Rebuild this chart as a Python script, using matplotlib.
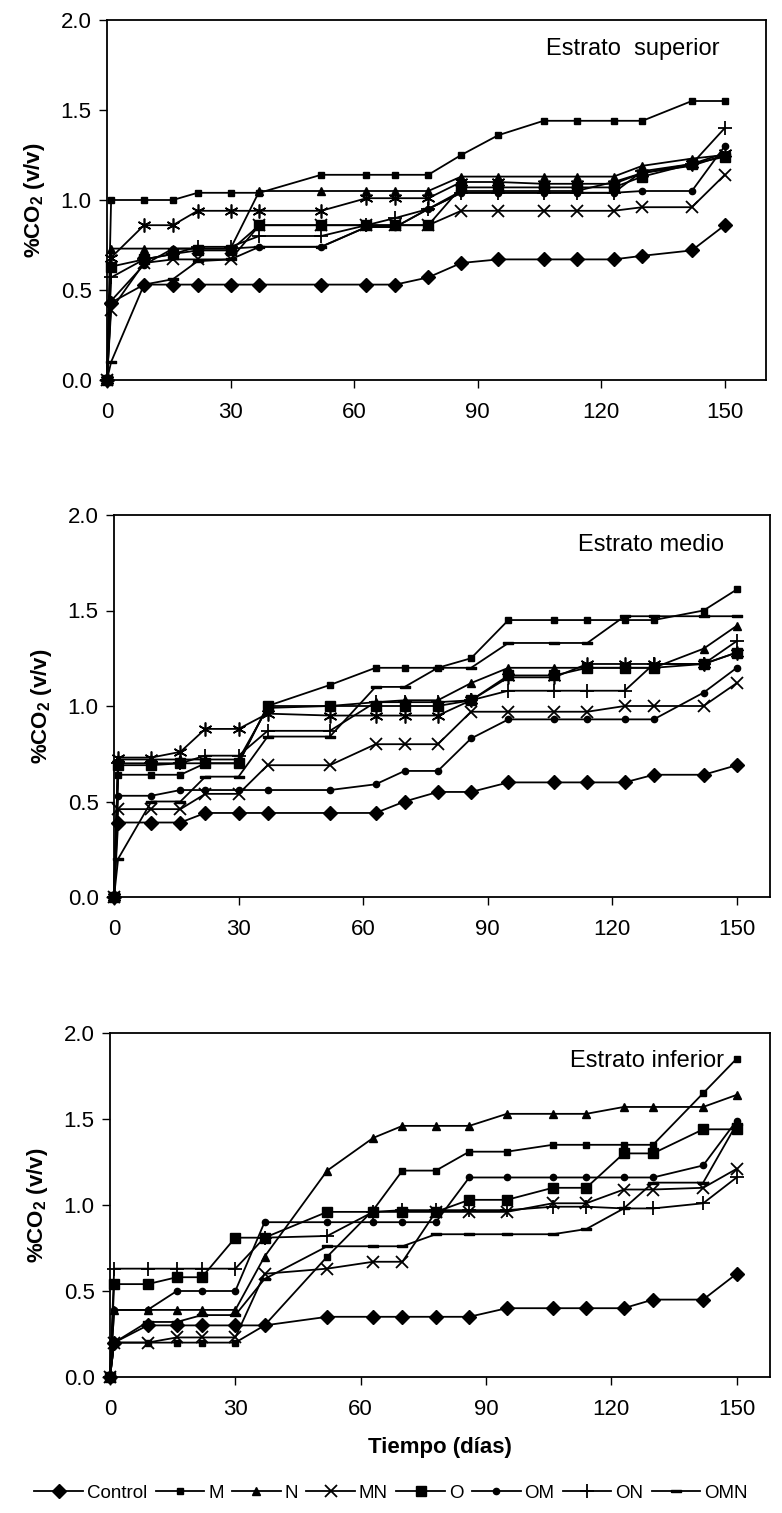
import matplotlib
matplotlib.use("Agg")
import matplotlib.pyplot as plt
import numpy as np

plt.rcParams["font.family"] = ["Liberation Sans", "DejaVu Sans"]
plt.rcParams["mathtext.fontset"] = "custom"
plt.rcParams["mathtext.bf"] = "Liberation Sans:bold"
plt.rcParams["mathtext.rm"] = "Liberation Sans"

days = [0, 1, 9, 16, 22, 30, 37, 52, 63, 70, 78, 86, 95, 106, 114, 123, 130, 142, 150]
x_ticks = [0, 30, 60, 90, 120, 150]
y_ticks = [0.0, 0.5, 1.0, 1.5, 2.0]
series_names = ["Control", "M", "N", "MN", "O", "OM", "ON", "OMN"]

# Estrato superior
sup_control = [0, 0.43, 0.53, 0.53, 0.53, 0.53, 0.53, 0.53, 0.53, 0.53, 0.57, 0.65, 0.67, 0.67, 0.67, 0.67, 0.69, 0.72, 0.86]
sup_m = [0, 1.00, 1.00, 1.00, 1.04, 1.04, 1.04, 1.14, 1.14, 1.14, 1.14, 1.25, 1.36, 1.44, 1.44, 1.44, 1.44, 1.55, 1.55]
sup_n = [0, 0.73, 0.73, 0.73, 0.73, 0.73, 1.05, 1.05, 1.05, 1.05, 1.05, 1.13, 1.13, 1.13, 1.13, 1.13, 1.19, 1.23, 1.25]
sup_mn = [0, 0.39, 0.65, 0.67, 0.67, 0.67, 0.86, 0.86, 0.86, 0.86, 0.86, 0.94, 0.94, 0.94, 0.94, 0.94, 0.96, 0.96, 1.14]
sup_o = [0, 0.63, 0.67, 0.70, 0.72, 0.72, 0.86, 0.86, 0.86, 0.86, 0.86, 1.07, 1.07, 1.07, 1.07, 1.07, 1.13, 1.20, 1.24]
sup_om = [0, 0.44, 0.64, 0.73, 0.73, 0.73, 0.74, 0.74, 0.85, 0.85, 0.95, 1.04, 1.04, 1.04, 1.04, 1.04, 1.05, 1.05, 1.30]
sup_on = [0, 0.57, 0.67, 0.70, 0.74, 0.74, 0.80, 0.80, 0.86, 0.90, 0.95, 1.04, 1.04, 1.04, 1.04, 1.04, 1.16, 1.20, 1.40]
sup_omn = [0, 0.10, 0.53, 0.56, 0.66, 0.67, 0.74, 0.74, 0.85, 0.85, 0.95, 1.05, 1.05, 1.05, 1.05, 1.10, 1.15, 1.19, 1.25]
sup_star = [0, 0.68, 0.86, 0.86, 0.94, 0.94, 0.94, 0.94, 1.01, 1.01, 1.01, 1.10, 1.10, 1.09, 1.09, 1.09, 1.15, 1.20, 1.26]

# Estrato medio
med_control = [0, 0.39, 0.39, 0.39, 0.44, 0.44, 0.44, 0.44, 0.44, 0.50, 0.55, 0.55, 0.60, 0.60, 0.60, 0.60, 0.64, 0.64, 0.69]
med_m = [0, 0.64, 0.64, 0.64, 0.70, 0.70, 1.00, 1.11, 1.20, 1.20, 1.20, 1.25, 1.45, 1.45, 1.45, 1.45, 1.45, 1.50, 1.61]
med_n = [0, 0.72, 0.72, 0.72, 0.72, 0.72, 0.99, 1.00, 1.02, 1.03, 1.03, 1.12, 1.20, 1.20, 1.20, 1.20, 1.20, 1.30, 1.42]
med_mn = [0, 0.46, 0.46, 0.46, 0.54, 0.54, 0.69, 0.69, 0.80, 0.80, 0.80, 0.97, 0.97, 0.97, 0.97, 1.00, 1.00, 1.00, 1.12]
med_o = [0, 0.69, 0.69, 0.70, 0.70, 0.70, 1.00, 1.00, 1.00, 1.00, 1.00, 1.03, 1.16, 1.16, 1.20, 1.20, 1.20, 1.22, 1.28]
med_om = [0, 0.53, 0.53, 0.56, 0.56, 0.56, 0.56, 0.56, 0.59, 0.66, 0.66, 0.83, 0.93, 0.93, 0.93, 0.93, 0.93, 1.07, 1.20]
med_on = [0, 0.70, 0.70, 0.70, 0.74, 0.74, 0.87, 0.87, 1.02, 1.02, 1.02, 1.03, 1.08, 1.08, 1.08, 1.08, 1.22, 1.22, 1.34]
med_omn = [0, 0.20, 0.50, 0.50, 0.63, 0.63, 0.84, 0.84, 1.10, 1.10, 1.20, 1.20, 1.33, 1.33, 1.33, 1.47, 1.47, 1.47, 1.47]
med_star = [0, 0.73, 0.73, 0.76, 0.88, 0.88, 0.96, 0.95, 0.95, 0.95, 0.95, 1.03, 1.15, 1.15, 1.22, 1.22, 1.22, 1.22, 1.28]

# Estrato inferior
inf_control = [0, 0.20, 0.30, 0.30, 0.30, 0.30, 0.30, 0.35, 0.35, 0.35, 0.35, 0.35, 0.40, 0.40, 0.40, 0.40, 0.45, 0.45, 0.60]
inf_m = [0, 0.20, 0.20, 0.20, 0.20, 0.20, 0.30, 0.70, 0.97, 1.20, 1.20, 1.31, 1.31, 1.35, 1.35, 1.35, 1.35, 1.65, 1.85]
inf_n = [0, 0.39, 0.39, 0.39, 0.39, 0.39, 0.70, 1.20, 1.39, 1.46, 1.46, 1.46, 1.53, 1.53, 1.53, 1.57, 1.57, 1.57, 1.64]
inf_mn = [0, 0.20, 0.20, 0.23, 0.23, 0.23, 0.60, 0.63, 0.67, 0.67, 0.96, 0.96, 0.96, 1.01, 1.01, 1.09, 1.09, 1.10, 1.21]
inf_o = [0, 0.54, 0.54, 0.58, 0.58, 0.81, 0.81, 0.96, 0.96, 0.96, 0.96, 1.03, 1.03, 1.10, 1.10, 1.30, 1.30, 1.44, 1.44]
inf_om = [0, 0.39, 0.39, 0.50, 0.50, 0.50, 0.90, 0.90, 0.90, 0.90, 0.90, 1.16, 1.16, 1.16, 1.16, 1.16, 1.16, 1.23, 1.49]
inf_on = [0, 0.63, 0.63, 0.63, 0.63, 0.63, 0.81, 0.82, 0.96, 0.97, 0.97, 0.97, 0.97, 0.99, 0.99, 0.98, 0.98, 1.01, 1.16]
inf_omn = [0, 0.20, 0.32, 0.32, 0.36, 0.36, 0.57, 0.76, 0.76, 0.76, 0.83, 0.83, 0.83, 0.83, 0.86, 0.98, 1.13, 1.13, 1.47]

dash = [(-1, -0.25), (1, -0.25), (1, 0.25), (-1, 0.25), (-1, -0.25)]
styles = {
    "Control": dict(marker="D", ms=7),
    "M": dict(marker="s", ms=4.5),
    "N": dict(marker="^", ms=6),
    "MN": dict(marker="x", ms=8, mew=1.3),
    "O": dict(marker="s", ms=7),
    "OM": dict(marker="o", ms=4.5),
    "ON": dict(marker="+", ms=10, mew=1.3),
    "OMN": dict(marker=dash, ms=7),
}

panels = [
    ("Estrato  superior", [sup_control, sup_m, sup_n, sup_mn, sup_o, sup_om, sup_on, sup_omn], sup_star,
     [107, 20, 766, 380], 160),
    ("Estrato medio", [med_control, med_m, med_n, med_mn, med_o, med_om, med_on, med_omn], med_star,
     [114, 515, 770, 897], 158),
    ("Estrato inferior", [inf_control, inf_m, inf_n, inf_mn, inf_o, inf_om, inf_on, inf_omn], None,
     [110, 1033, 770, 1377], 158),
]

W, H = 782, 1513
fig = plt.figure(figsize=(W / 100, H / 100), dpi=100)

for i, (title, values, star, box, xmax) in enumerate(panels):
    l, t, r, b = box
    ax = fig.add_axes([l / W, 1 - b / H, (r - l) / W, (b - t) / H])
    for name, v in zip(series_names, values):
        ax.plot(days, v, color="black", lw=1.3, mfc="black", mec="black",
                clip_on=False, label=name, **styles[name])
    if star is not None:
        ax.plot(days, star, color="black", lw=1.3, marker=(6, 2, 0), ms=10,
                mew=1.2, clip_on=False)
    ax.set_xlim(0, xmax)
    ax.set_ylim(0, 2.0)
    ax.set_xticks(x_ticks)
    ax.set_yticks(y_ticks)
    ax.set_yticklabels([f"{y:.1f}" for y in y_ticks])
    ax.tick_params(direction="out", length=6, width=1, labelsize=16)
    ax.tick_params(axis="x", pad=10)
    ax.tick_params(axis="y", pad=5)
    for s in ax.spines.values():
        s.set_linewidth(1.3)
    ax.text(0.93, 0.95, title, transform=ax.transAxes, ha="right", va="top", fontsize=17)
    ax.set_ylabel(r"%CO$_\mathbf{2}$ (v/v)", fontsize=16, fontweight="bold", labelpad=10)
    if i == 2:
        ax.set_xlabel("Tiempo (días)", fontsize=16, fontweight="bold", labelpad=12)
        handles, labels = ax.get_legend_handles_labels()

fig.legend(handles, labels, loc="center", ncol=8, frameon=False,
           bbox_to_anchor=(0.5, 1 - 1493 / H), fontsize=13.5,
           handlelength=2.6, handletextpad=0.2, columnspacing=0.45)

fig.savefig("out.png", dpi=100)
